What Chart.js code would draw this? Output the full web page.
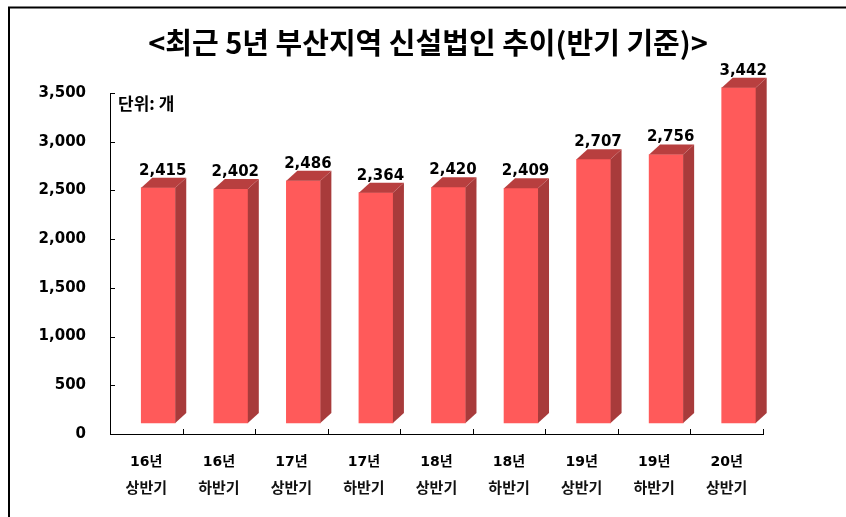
<!DOCTYPE html>
<html>
<head>
<meta charset="utf-8">
<script src="https://cdn.jsdelivr.net/npm/chart.js@4/dist/chart.umd.min.js"></script>
<style>
    html, body { margin: 0; padding: 0; background: #fff; }
    #wrap { width: 846px; height: 517px; }
</style>
</head>
<body>
<div id="wrap"><canvas id="chart"></canvas></div>
<script>
// Chart data
const yearLabels = ['16년', '16년', '17년', '17년', '18년', '18년', '19년', '19년', '20년'];
const halfLabels = ['상반기', '하반기', '상반기', '하반기', '상반기', '하반기', '상반기', '하반기', '상반기'];
const newCompanies = [2415, 2402, 2486, 2364, 2420, 2409, 2707, 2756, 3442];
const yMin = 0;
const yMax = 3500;
const yStep = 500;

const FRONT = '#FF5A5A';
const SIDE = '#A83B3B';
const TOP = '#B83F3F';
const DEPTH_X = 11;
const DEPTH_Y = 10;
const NUM_FONT = "'DejaVu Sans', 'Noto Sans CJK KR', sans-serif";
const KR_FONT = "'Noto Sans CJK KR', sans-serif";

// Draws the 3D side/top faces, the labels, ticks and the frame
const depthPlugin = {
    id: 'depth',
    beforeDraw(chart) {
        const ctx = chart.ctx;
        ctx.save();
        ctx.strokeStyle = '#000';
        ctx.lineWidth = 2;
        ctx.beginPath();
        ctx.moveTo(9, 517);
        ctx.lineTo(9, 7.5);
        ctx.lineTo(846, 7.5);
        ctx.stroke();
        ctx.restore();
    },
    afterDatasetsDraw(chart) {
        const ctx = chart.ctx;
        const meta = chart.getDatasetMeta(0);
        ctx.save();
        meta.data.forEach((bar, i) => {
            const p = bar.getProps(['x', 'y', 'base', 'width'], true);
            const left = p.x - p.width / 2;
            const right = p.x + p.width / 2;
            // side face
            ctx.fillStyle = SIDE;
            ctx.beginPath();
            ctx.moveTo(right, p.y);
            ctx.lineTo(right + DEPTH_X, p.y - DEPTH_Y);
            ctx.lineTo(right + DEPTH_X, p.base - DEPTH_Y);
            ctx.lineTo(right, p.base);
            ctx.closePath();
            ctx.fill();
            // top face
            ctx.fillStyle = TOP;
            ctx.beginPath();
            ctx.moveTo(left, p.y);
            ctx.lineTo(left + DEPTH_X, p.y - DEPTH_Y);
            ctx.lineTo(right + DEPTH_X, p.y - DEPTH_Y);
            ctx.lineTo(right, p.y);
            ctx.closePath();
            ctx.fill();
            // value label
            ctx.fillStyle = '#000';
            ctx.font = 'bold 15px ' + NUM_FONT;
            ctx.textAlign = 'center';
            ctx.textBaseline = 'alphabetic';
            ctx.fillText(newCompanies[i].toLocaleString('en-US'), p.x + DEPTH_X / 2 - 1, p.y - DEPTH_Y - 3);
        });
        ctx.restore();
    },
    afterDraw(chart) {
        const ctx = chart.ctx;
        const area = chart.chartArea;
        const y = chart.scales.y;
        const x = chart.scales.x;
        ctx.save();
        ctx.strokeStyle = '#000';
        ctx.lineWidth = 1;
        // y ticks, pointing inward
        y.ticks.forEach(t => {
            const py = Math.round(y.getPixelForValue(t.value)) + 0.5;
            ctx.beginPath();
            ctx.moveTo(area.left, py);
            ctx.lineTo(area.left + 5, py);
            ctx.stroke();
        });
        // x ticks at category boundaries
        const step = (area.right - area.left) / x.ticks.length;
        for (let i = 1; i <= x.ticks.length; i++) {
            const px = Math.round(area.left + step * i) + 0.5;
            ctx.beginPath();
            ctx.moveTo(px, area.bottom);
            ctx.lineTo(px, area.bottom - 5);
            ctx.stroke();
        }
        // unit
        ctx.fillStyle = '#000';
        ctx.font = 'bold 17px ' + KR_FONT;
        ctx.textAlign = 'left';
        ctx.textBaseline = 'middle';
        ctx.fillText('단위: 개', area.left + 8, area.top + 11);
        ctx.restore();
    }
};

const ctx = document.getElementById('chart').getContext('2d');
new Chart(ctx, {
    type: 'bar',
    data: {
        labels: yearLabels,
        datasets: [{
            label: '신설법인',
            data: newCompanies.map((v, i) => ({ x: i, y: v })),
            xAxisID: 'xb',
            yAxisID: 'yb',
            backgroundColor: FRONT,
            barThickness: 34,
            clip: false
        }]
    },
    options: {
        responsive: true,
        maintainAspectRatio: false,
        animation: false,
        layout: {
            padding: { left: 10, right: 0, top: 0, bottom: 0 }
        },
        plugins: {
            legend: { display: false },
            tooltip: { enabled: false },
            title: {
                display: true,
                text: '<최근 5년 부산지역 신설법인 추이(반기 기준)>',
                color: '#000',
                font: { family: KR_FONT, size: 29, weight: 'bold', lineHeight: 1.2 },
                padding: { top: 26, bottom: 32.2 }
            }
        },
        scales: {
            x: {
                type: 'category',
                position: 'bottom',
                weight: 0,
                offset: true,
                grid: { display: false, drawTicks: false },
                border: { display: true, color: '#000', width: 1 },
                ticks: {
                    color: '#000',
                    padding: 20,
                    maxRotation: 0,
                    autoSkip: false,
                    font: { family: NUM_FONT, size: 14, weight: 'bold', lineHeight: 1.2 }
                },
                afterFit(s) { s.height = 36; }
            },
            x2: {
                type: 'category',
                position: 'bottom',
                weight: 1,
                labels: halfLabels,
                offset: true,
                grid: { display: false, drawTicks: false },
                border: { display: false },
                ticks: {
                    color: '#111',
                    padding: 8,
                    maxRotation: 0,
                    autoSkip: false,
                    font: { family: KR_FONT, size: 15, weight: 'bold', lineHeight: 1.2 }
                },
                afterFit(s) { s.height = 47; }
            },
            xb: {
                type: 'linear',
                display: false,
                offset: false,
                min: -0.665,
                max: 8.335
            },
            y: {
                min: yMin,
                max: yMax,
                grid: { display: false, drawTicks: false },
                border: { display: true, color: '#000', width: 1 },
                ticks: {
                    stepSize: yStep,
                    color: '#000',
                    padding: 24,
                    font: { family: NUM_FONT, size: 15, weight: 'bold' },
                    callback: v => v.toLocaleString('en-US')
                },
                afterFit(s) { s.width = 100; }
            },
            // empty right margin so the title centres on the whole picture
            yr: {
                type: 'linear',
                position: 'right',
                display: true,
                grid: { display: false, drawTicks: false },
                border: { display: false },
                ticks: { display: false },
                afterFit(s) { s.width = 83; }
            },
            yb: {
                type: 'linear',
                display: false,
                min: yMin - 113,
                max: yMax - 113
            }
        }
    },
    plugins: [depthPlugin]
});
</script>
</body>
</html>
